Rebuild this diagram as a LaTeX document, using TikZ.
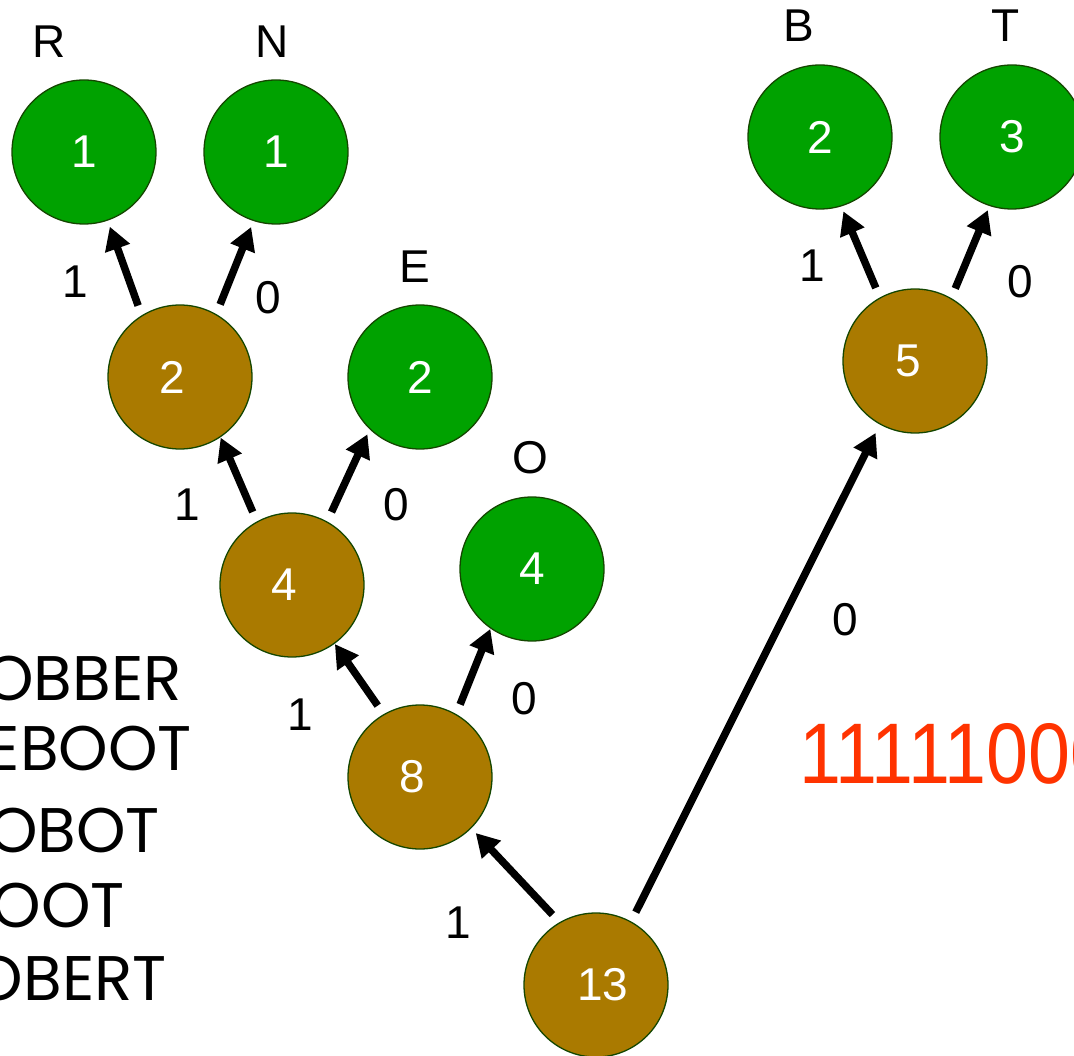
\documentclass[tikz,border=0pt]{standalone}
\usepackage{fontspec}
\setmainfont{Liberation Sans}
\newfontfamily\wordfont{Poppins}
\usetikzlibrary{arrows.meta}
\definecolor{leafgreen}{RGB}{0,162,0}
\definecolor{innerbrown}{RGB}{170,122,0}
\definecolor{rimgreen}{RGB}{20,70,0}
\definecolor{codered}{RGB}{255,51,0}
\begin{document}
\begin{tikzpicture}[x=1pt,y=-1pt,
  leaf/.style={circle,fill=leafgreen,draw=rimgreen,line width=1.3pt,minimum size=144pt,inner sep=0pt,outer sep=0pt,text=white,font=\fontsize{46}{46}\selectfont},
  inner/.style={leaf,fill=innerbrown},
  sym/.style={inner sep=0pt,font=\fontsize{46}{46}\selectfont},
  bit/.style={inner sep=0pt,font=\fontsize{46}{46}\selectfont},
  edge/.style={line width=7.5pt,-{Triangle[length=23pt,width=25pt]},shorten <=11pt,shorten >=4pt},
  word/.style={anchor=base east,inner sep=0pt,font=\wordfont\fontsize{63}{63}\selectfont}]
\useasboundingbox (0,0) rectangle (1074,1056);
\clip (0,0) rectangle (1074,1056);
% nodes
\node[leaf] (R) at (84,152) {1};
\node[leaf] (N) at (276,152) {1};
\node[inner] (n2) at (180,377) {\hspace*{-16pt}2};
\node[leaf] (E) at (420,377) {2};
\node[inner] (n4) at (292,585) {\hspace*{-16pt}4};
\node[leaf] (O) at (532,569) {4};
\node[inner] (n8) at (420,777) {\hspace*{-16pt}8};
\node[inner] (n13) at (596,985) {13\hspace*{-14pt}};
\node[inner] (n5) at (915,361) {\hspace*{-14pt}5};
\node[leaf] (B) at (820,137) {2};
\node[leaf] (T) at (1012,137) {3};
% symbol labels
\node[sym] (lR) at (49,42) {R};
\node[sym] (lN) at (272,42) {N};
\node[sym] (lE) at (415,267) {E};
\node[sym] (lO) at (530,458) {O};
\node[sym] (lB) at (799,26) {B};
\node[sym] (lT) at (1006,26) {T};
% edges
\draw[edge,shorten >=7pt] (n2.122) -- (R.-71);
\draw[edge,shorten >=7pt] (n2.60) -- (N.-108);
\draw[edge,shorten >=1pt] (n4.119) -- (n2.-56);
\draw[edge,shorten >=6pt] (n4.61) -- (E.-134);
\draw[edge,shorten >=1pt] (n8.120) -- (n4.-54);
\draw[edge,shorten >=1pt] (n8.60) -- (O.-125);
\draw[edge,shorten >=7pt] (n13.120) -- (n8.-45);
\draw[edge,shorten >=10pt] (n13.61) -- (n5.-119);
\draw[edge,shorten >=6pt] (n5.119) -- (B.-73);
\draw[edge,shorten >=5pt] (n5.60) -- (T.-108);
% bit labels
\node[bit] (b1) at (75,282) {1};
\node[bit] (b2) at (268,298) {0};
\node[bit] (b3) at (187,505) {1};
\node[bit] (b4) at (396,505) {0};
\node[bit] (b5) at (300,715) {1};
\node[bit] (b6) at (524,699) {0};
\node[bit] (b7) at (458,923) {1};
\node[bit] (b8) at (845,620) {0};
\node[bit] (b9) at (812,266) {1};
\node[bit] (b10) at (1020,282) {0};
% words
\node[word] (w1) at (182,700) {ROBBER};
\node[word] (w2) at (192,770) {REBOOT};
\node[word] (w3) at (160,852) {ROBOT};
\node[word] (w4) at (125,927) {ROOT};
\node[word] (w5) at (167,1000) {ROBERT};
% code
\node[anchor=base west,inner sep=0pt,text=codered,font=\fontsize{86}{86}\selectfont] (code) at (799,783) {\scalebox{0.877}[1]{11111000}};
\end{tikzpicture}
\end{document}
